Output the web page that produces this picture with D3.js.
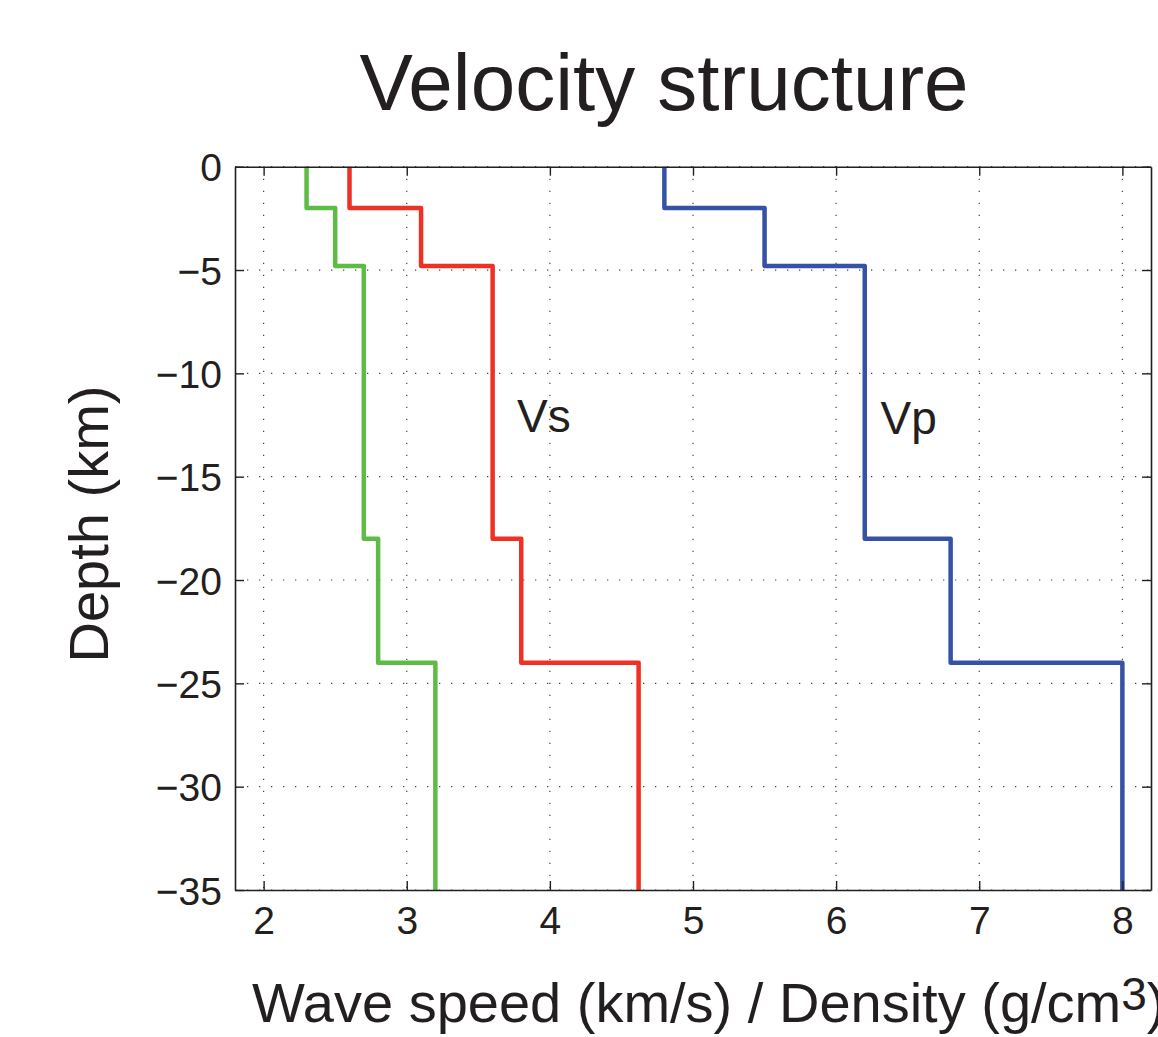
<!DOCTYPE html>
<html>
<head>
<meta charset="utf-8">
<script src="https://cdn.jsdelivr.net/npm/d3@7"></script>
<style>
  body { margin: 0; background: #fff; }
  svg { display: block; }
  text { font-family: "Liberation Sans", Arial, Helvetica, sans-serif; fill: #231f20; }
</style>
</head>
<body>
<div id="chart"></div>
<script>
// layer tops/bottoms (km, negative = depth)
const layerDepths = [0, -2, -4.8, -18, -24, -35];
const density = [2.3, 2.5, 2.7, 2.8, 3.2];
const vs = [2.6, 3.1, 3.6, 3.8, 4.62];
const vp = [4.8, 5.5, 6.2, 6.8, 8.0];
const xTicks = [2, 3, 4, 5, 6, 7, 8];
const yTicks = [0, -5, -10, -15, -20, -25, -30, -35];
const labels = [
    { text: "Vs", x: 3.77, y: -12.85 },
    { text: "Vp", x: 6.31, y: -12.95 }
];

const W = 1158, H = 1037;
const margin = { top: 166.7, right: 7, bottom: 147, left: 235 };
const width = W - margin.left - margin.right;
const height = H - margin.top - margin.bottom;

const svg = d3.select("#chart").append("svg")
    .attr("width", W)
    .attr("height", H);

const g = svg.append("g")
    .attr("transform", "translate(" + margin.left + "," + margin.top + ")");

const x = d3.scaleLinear().domain([1.8, 8.2]).range([0, width]);
const y = d3.scaleLinear().domain([0, -35]).range([0, height]);

// dotted grid
g.append("g").selectAll("line")
    .data(xTicks)
    .enter().append("line")
    .attr("x1", d => x(d)).attr("x2", d => x(d))
    .attr("y1", 0).attr("y2", height)
    .attr("stroke", "#444").attr("stroke-width", 1.2)
    .attr("stroke-dasharray", "1.3 10.7");

g.append("g").selectAll("line")
    .data(yTicks)
    .enter().append("line")
    .attr("x1", 0).attr("x2", width)
    .attr("y1", d => y(d)).attr("y2", d => y(d))
    .attr("stroke", "#444").attr("stroke-width", 1.2)
    .attr("stroke-dasharray", "1.3 10.7");

// step profiles
function stepPoints(vals) {
    const pts = [];
    vals.forEach((v, i) => {
        pts.push([v, layerDepths[i]]);
        pts.push([v, layerDepths[i + 1]]);
    });
    return pts;
}

const line = d3.line().x(d => x(d[0])).y(d => y(d[1]));

const series = [
    { vals: density, color: "#5dbb46" },
    { vals: vs, color: "#ee3124" },
    { vals: vp, color: "#3652a5" }
];

g.selectAll(".profile")
    .data(series)
    .enter().append("path")
    .attr("class", "profile")
    .attr("d", d => line(stepPoints(d.vals)))
    .attr("fill", "none")
    .attr("stroke", d => d.color)
    .attr("stroke-width", 4.5)
    .attr("stroke-linejoin", "round");

// axes box with inward ticks on all sides
const tickLen = 9;
const fmt = d => d < 0 ? "\u2212" + Math.abs(d) : String(d);

const axBottom = g.append("g")
    .attr("transform", "translate(0," + height + ")")
    .call(d3.axisBottom(x).tickValues(xTicks).tickSizeInner(-tickLen).tickSizeOuter(0).tickPadding(16).tickFormat(fmt));
const axTop = g.append("g")
    .call(d3.axisTop(x).tickValues(xTicks).tickSizeInner(-tickLen).tickSizeOuter(0).tickFormat(""));
const axLeft = g.append("g")
    .call(d3.axisLeft(y).tickValues(yTicks).tickSizeInner(-tickLen).tickSizeOuter(0).tickPadding(13).tickFormat(fmt));
const axRight = g.append("g")
    .attr("transform", "translate(" + width + ",0)")
    .call(d3.axisRight(y).tickValues(yTicks).tickSizeInner(-tickLen).tickSizeOuter(0).tickFormat(""));

[axBottom, axTop, axLeft, axRight].forEach(a => {
    a.select(".domain").attr("stroke", "#231f20").attr("stroke-width", 1.6);
    a.selectAll(".tick line").attr("stroke", "#231f20").attr("stroke-width", 1.4);
    a.selectAll("text").style("font-size", "39px").attr("fill", "#231f20");
});
axLeft.selectAll("text").attr("dy", "0.36em");
axBottom.selectAll("text").attr("dy", "0.71em");

// curve labels
g.selectAll(".curve-label")
    .data(labels)
    .enter().append("text")
    .attr("class", "curve-label")
    .attr("x", d => x(d.x))
    .attr("y", d => y(d.y))
    .style("font-size", "46px")
    .text(d => d.text);

// title and axis titles
svg.append("text")
    .attr("x", 664).attr("y", 110)
    .attr("text-anchor", "middle")
    .style("font-size", "80px")
    .text("Velocity structure");

const xl = svg.append("text")
    .attr("x", 252).attr("y", 1022)
    .style("font-size", "56px");
xl.append("tspan").text("Wave speed (km/s) / Density (g/cm");
xl.append("tspan").attr("dy", -12).style("font-size", "46px").text("3");
xl.append("tspan").attr("dy", 12).text(")");

svg.append("text")
    .attr("transform", "translate(108,524) rotate(-90)")
    .attr("text-anchor", "middle")
    .style("font-size", "56px")
    .text("Depth (km)");
</script>
</body>
</html>
